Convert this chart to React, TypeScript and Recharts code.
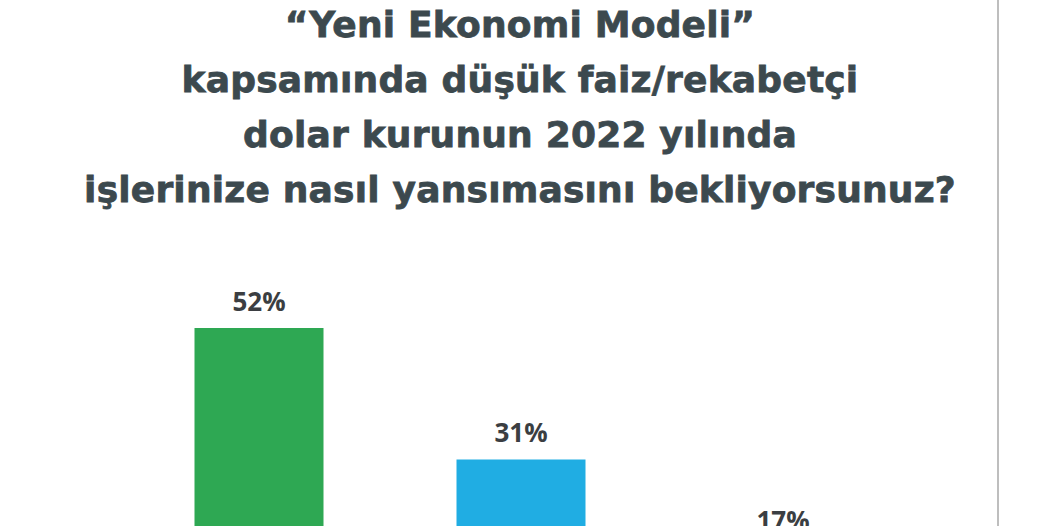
import React from "react";
import { BarChart, Bar, XAxis, YAxis, Cell, LabelList } from "recharts";

const categories = ["Olumlu", "Nötr", "Olumsuz"];
const values = [52, 31, 17];
const colors = ["#2ea853", "#20ade3", "#e84c3d"];
const titleLines = [
  "“Yeni Ekonomi Modeli”",
  "kapsamında düşük faiz/rekabetçi",
  "dolar kurunun 2022 yılında",
  "işlerinize nasıl yansımasını bekliyorsunuz?",
];

const data = categories.map((c, i) => ({ name: c, value: values[i] }));

export default function App() {
  return (
    <div style={{ position: "absolute", left: 0, top: 0, width: 1040, height: 526, overflow: "hidden", background: "#ffffff" }}>
      <svg width={1040} height={526} style={{ position: "absolute", left: 0, top: 0 }}>
        {titleLines.map((t, i) => (
          <text
            key={i}
            x={520}
            y={37 + i * 55}
            textAnchor="middle"
            fontFamily="'DejaVu Sans', sans-serif"
            fontWeight={700}
            fontSize={36}
            letterSpacing={0.2}
            fill="#3c494e"
            stroke="#3c494e"
            strokeWidth={0.8}
          >
            {t}
          </text>
        ))}
        <line x1={998} y1={0} x2={998} y2={526} stroke="#a8a8a8" strokeWidth={1.5} />
      </svg>
      <div style={{ position: "absolute", left: 0, top: 0 }}>
        <BarChart
          width={1040}
          height={700}
          data={data}
          margin={{ top: 278, right: 126.5, bottom: 46.6, left: 127.5 }}
        >
          <XAxis dataKey="name" hide />
          <YAxis domain={[0, 60]} hide />
          <Bar dataKey="value" barSize={129} isAnimationActive={false}>
            {data.map((d, i) => (
              <Cell key={d.name} fill={colors[i]} />
            ))}
            <LabelList
              dataKey="value"
              position="top"
              offset={17}
              formatter={(v: number) => `${v}%`}
              style={{ fontFamily: "'Open Sans', sans-serif", fontWeight: 700, fontSize: 26, fill: "#3b3e42" }}
            />
          </Bar>
        </BarChart>
      </div>
    </div>
  );
}
